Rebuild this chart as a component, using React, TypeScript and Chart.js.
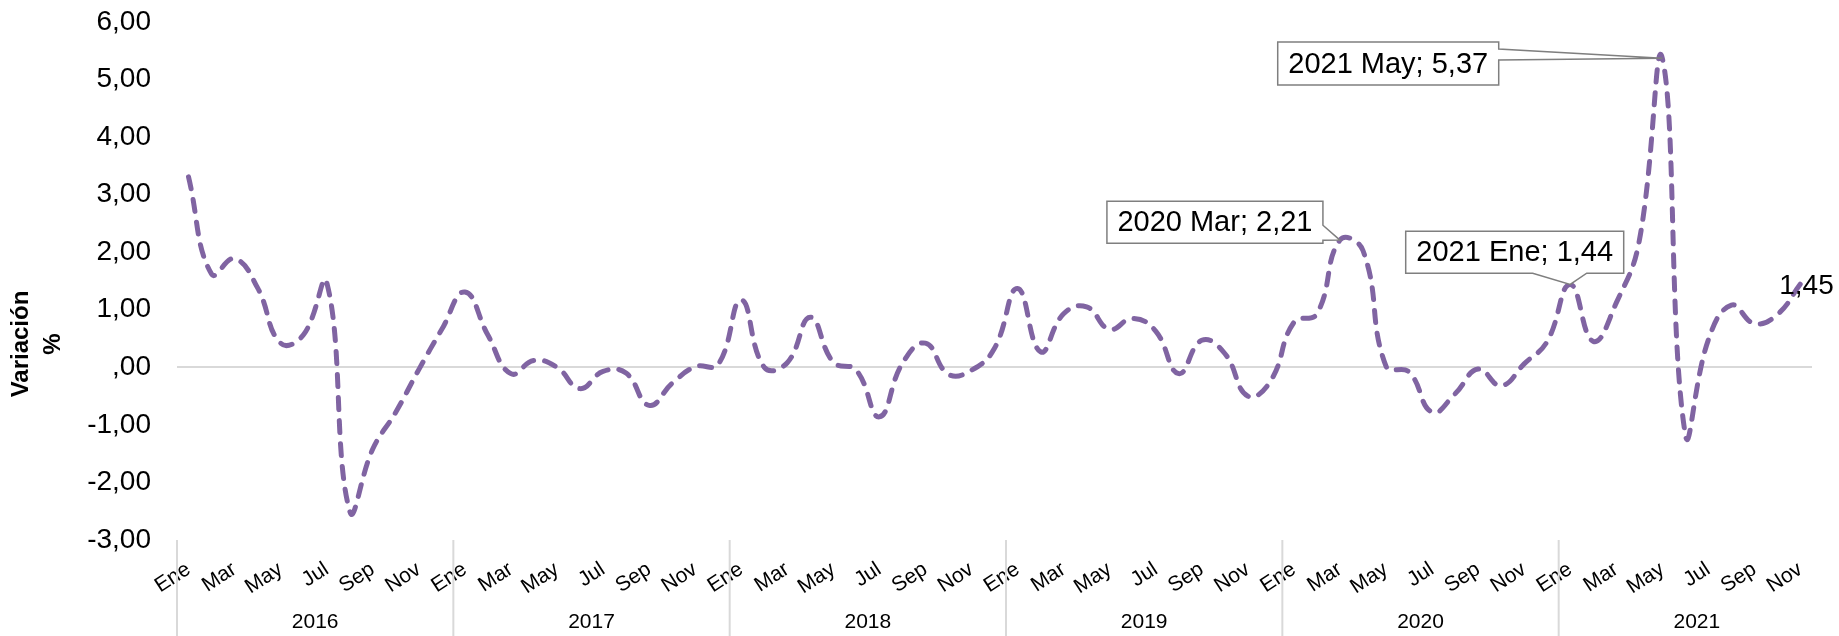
import React, { useEffect, useRef } from 'react';
import { Chart, registerables } from 'chart.js';

Chart.register(...registerables);

const FONT = '"Liberation Sans", Arial, sans-serif';

const years = ['2016', '2017', '2018', '2019', '2020', '2021'];
const monthNames = ['Ene', 'Feb', 'Mar', 'Abr', 'May', 'Jun', 'Jul', 'Ago', 'Sep', 'Oct', 'Nov', 'Dic'];

const v2016 = [3.31, 1.62, 1.89, 1.38, 0.42, 0.57, 1.48, -2.5, -1.42, -0.78, -0.04, 0.66];
const v2017 = [1.31, 0.56, -0.11, 0.12, 0.0, -0.37, -0.07, -0.1, -0.66, -0.28, 0.01, 0.05];
const v2018 = [1.17, 0.0, 0.08, 0.87, 0.09, -0.05, -0.86, 0.07, 0.42, -0.12, -0.05, 0.33];
const v2019 = [1.37, 0.27, 0.93, 1.05, 0.66, 0.85, 0.63, -0.11, 0.47, 0.24, -0.5, -0.23];
const v2020 = [0.78, 0.93, 2.21, 2.03, 0.02, -0.08, -0.78, -0.46, -0.03, -0.32, 0.06, 0.45];
const v2021 = [1.44, 0.45, 1.12, 2.2, 5.37, -1.17, 0.48, 1.08, 0.76, 0.92, 1.45];

const seriesByYear = [v2016, v2017, v2018, v2019, v2020, v2021];

const values: number[] = [];
const monthLabels: string[] = [];
const yearOfPoint: string[] = [];
const yearStart: number[] = [];
seriesByYear.forEach((arr, yi) => {
  yearStart.push(values.length);
  arr.forEach((v, mi) => {
    values.push(v);
    monthLabels.push(monthNames[mi]);
    yearOfPoint.push(years[yi]);
  });
});

const annotatedIndices = [50, 60, 64];
const plainLabelIndex = 70;

const fmt = (v: number) => (v === 0 ? ',00' : v.toFixed(2).replace('.', ','));

// layout of the callouts (relative to the point): box rect and wedge base
const calloutLayout: Record<number, any> = {
  64: { dx: -384.6, dy: -16.2, w: 221, h: 43, side: 'right', b1: 7, b2: 18 },
  50: { dx: -233, dy: -38.9, w: 216, h: 42, side: 'right', b1: 24, b2: 39 },
  60: { dx: -164.5, dy: -53.2, w: 218, h: 42, side: 'bottom', b1: 127, b2: 181 },
};

const yearAxisPlugin = {
  id: 'yearAxis',
  afterDraw(chart: any) {
    const { ctx } = chart;
    const xs = chart.scales.x;
    const cw = xs.getPixelForValue(1) - xs.getPixelForValue(0);
    ctx.save();
    ctx.strokeStyle = '#d9d9d9';
    ctx.lineWidth = 2;
    ctx.fillStyle = '#000';
    ctx.font = `21px ${FONT}`;
    ctx.textAlign = 'center';
    ctx.textBaseline = 'middle';
    yearStart.forEach((s, yi) => {
      const left = xs.getPixelForValue(s) - cw / 2;
      ctx.beginPath();
      ctx.moveTo(left, xs.top);
      ctx.lineTo(left, chart.height);
      ctx.stroke();
      ctx.fillText(years[yi], left + cw * 6, xs.top + 82);
    });
    ctx.restore();
  },
};

const axisTitlePlugin = {
  id: 'axisTitle',
  afterDraw(chart: any) {
    const { ctx, chartArea } = chart;
    ctx.save();
    ctx.translate(37, chartArea.top + 322);
    ctx.rotate(-Math.PI / 2);
    ctx.fillStyle = '#000';
    ctx.font = `bold 24px ${FONT}`;
    ctx.textAlign = 'center';
    ctx.textBaseline = 'middle';
    ctx.fillText('Variación', 0, -16);
    ctx.fillText('%', 0, 16);
    ctx.restore();
  },
};

const calloutPlugin = {
  id: 'callouts',
  afterDatasetsDraw(chart: any) {
    const { ctx } = chart;
    const meta = chart.getDatasetMeta(0);
    ctx.save();
    annotatedIndices.forEach((idx) => {
      const el = meta.data[idx];
      const px = el.x;
      const py = el.y;
      const L = calloutLayout[idx];
      const l = px + L.dx;
      const t = py + L.dy;
      const r = l + L.w;
      const b = t + L.h;
      ctx.beginPath();
      ctx.moveTo(l, t);
      ctx.lineTo(r, t);
      if (L.side === 'right') {
        ctx.lineTo(r, t + L.b1);
        ctx.lineTo(px, py);
        ctx.lineTo(r, t + L.b2);
        ctx.lineTo(r, b);
        ctx.lineTo(l, b);
      } else {
        ctx.lineTo(r, b);
        ctx.lineTo(l + L.b2, b);
        ctx.lineTo(px, py);
        ctx.lineTo(l + L.b1, b);
        ctx.lineTo(l, b);
      }
      ctx.closePath();
      ctx.fillStyle = '#fff';
      ctx.fill();
      ctx.strokeStyle = '#7f7f7f';
      ctx.lineWidth = 1.5;
      ctx.stroke();
      ctx.fillStyle = '#000';
      ctx.font = `29px ${FONT}`;
      ctx.textAlign = 'center';
      ctx.textBaseline = 'middle';
      const text = `${yearOfPoint[idx]} ${monthLabels[idx]}; ${fmt(values[idx])}`;
      ctx.fillText(text, (l + r) / 2, (t + b) / 2 + 1);
    });
    const last = meta.data[plainLabelIndex];
    ctx.fillStyle = '#000';
    ctx.font = `28px ${FONT}`;
    ctx.textAlign = 'center';
    ctx.textBaseline = 'middle';
    ctx.fillText(fmt(values[plainLabelIndex]), last.x + 6, last.y + 2);
    ctx.restore();
  },
};

export default function App() {
  const ref = useRef<HTMLCanvasElement | null>(null);

  useEffect(() => {
    document.body.style.margin = '0';
    document.body.style.overflow = 'hidden';
    if (!ref.current) return;
    const chart = new Chart(ref.current, {
      type: 'line',
      data: {
        labels: monthLabels,
        datasets: [
          {
            data: values,
            borderColor: '#8064A2',
            borderWidth: 5,
            borderDash: [12, 11],
            borderCapStyle: 'round',
            borderJoinStyle: 'round',
            pointRadius: 0,
            pointHoverRadius: 0,
            tension: 0.45,
            fill: false,
          },
        ],
      },
      options: {
        responsive: false,
        animation: false,
        events: [],
        font: { family: FONT },
        layout: { padding: { top: 22, right: 27, left: 0, bottom: 0 } },
        plugins: {
          legend: { display: false },
          tooltip: { enabled: false },
        },
        scales: {
          x: {
            offset: true,
            grid: { display: false, drawTicks: false },
            border: { display: false },
            ticks: {
              autoSkip: false,
              minRotation: 33,
              maxRotation: 33,
              padding: 17,
              color: '#000',
              font: { size: 21, family: FONT },
              callback: (_v: any, i: number) => (i % 2 === 0 ? monthLabels[i] : ''),
            },
            afterFit: (s: any) => {
              s.height = 96;
            },
          },
          y: {
            min: -3,
            max: 6,
            ticks: {
              stepSize: 1,
              padding: 26,
              color: '#000',
              font: { size: 28, family: FONT },
              callback: (v: any) => fmt(Number(v)),
            },
            grid: {
              drawTicks: false,
              lineWidth: 2,
              color: (c: any) => (c.tick && c.tick.value === 0 ? '#d9d9d9' : 'rgba(0,0,0,0)'),
            },
            border: { display: false },
            afterFit: (s: any) => {
              s.width = 177;
              s.paddingTop = 0;
              s.paddingBottom = 0;
            },
          },
        },
      } as any,
      plugins: [yearAxisPlugin, axisTitlePlugin, calloutPlugin],
    });
    return () => chart.destroy();
  }, []);

  return (
    <div style={{ width: 1839, height: 636 }}>
      <canvas ref={ref} width={1839} height={636} style={{ display: 'block' }} />
    </div>
  );
}
